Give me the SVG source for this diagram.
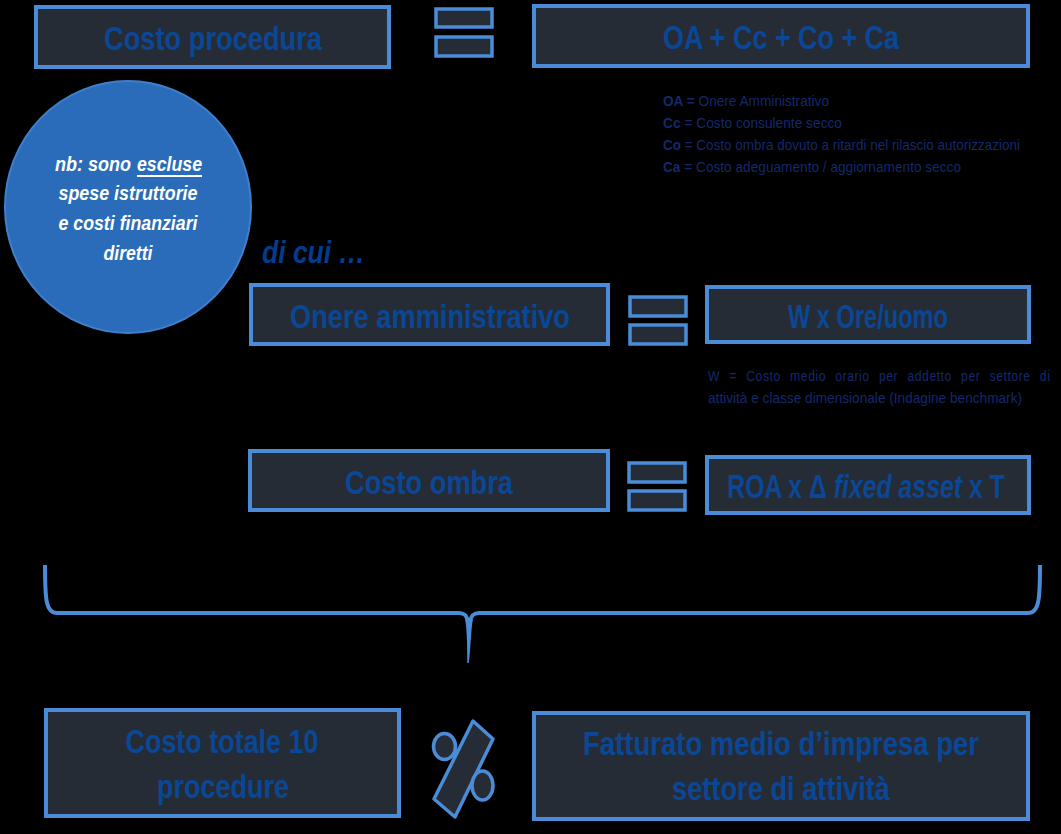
<svg xmlns="http://www.w3.org/2000/svg" width="1061" height="834" viewBox="0 0 1061 834">
<style>
.box{fill:#262C35;stroke:#4A8CD8;stroke-width:4}
.eq{fill:#262C35;stroke:#4A8CD8;stroke-width:3.5}
.t{font-family:"Liberation Sans Narrow","Liberation Sans",Arial,sans-serif;font-weight:bold;fill:#0A4796;text-anchor:middle;font-size:34px}
.lg{font-family:"Liberation Sans Narrow","Liberation Sans",Arial,sans-serif;fill:#12296C;font-size:15px}
.lg tspan.b{font-weight:bold}
.nb{font-family:"Liberation Sans Narrow","Liberation Sans",Arial,sans-serif;font-weight:bold;font-style:italic;fill:#FFFFFF;font-size:21px}
.brace{fill:none;stroke:#4A8CD8;stroke-width:4}
</style>
<rect width="1061" height="834" fill="#000000"/>

<g id="costo-procedura">
<rect class="box" x="36" y="7" width="353" height="60"/>
<text class="t" x="213" y="50" textLength="218" lengthAdjust="spacingAndGlyphs">Costo procedura</text>
</g>
<g id="eq1">
<rect class="eq" x="436" y="9" width="56" height="18"/>
<rect class="eq" x="436" y="37" width="56" height="19"/>
</g>
<g id="formula">
<rect class="box" x="534" y="6" width="494" height="60"/>
<text class="t" x="781" y="49" textLength="236" lengthAdjust="spacingAndGlyphs">OA + Cc + Co + Ca</text>
</g>
<g id="legend">
<text class="lg" x="663" y="106" textLength="166" lengthAdjust="spacingAndGlyphs"><tspan class="b">OA =</tspan> Onere Amministrativo</text>
<text class="lg" x="663" y="128" textLength="179" lengthAdjust="spacingAndGlyphs"><tspan class="b">Cc</tspan> = Costo consulente secco</text>
<text class="lg" x="663" y="150" textLength="357" lengthAdjust="spacingAndGlyphs"><tspan class="b">Co</tspan> = Costo ombra dovuto a ritardi nel rilascio autorizzazioni</text>
<text class="lg" x="663" y="172" textLength="298" lengthAdjust="spacingAndGlyphs"><tspan class="b">Ca</tspan> = Costo adeguamento / aggiornamento secco</text>
</g>
<g id="nota">
<ellipse cx="128" cy="207" rx="123" ry="126" fill="#2A6CB9" stroke="#3F80CE" stroke-width="2"/>
<text class="nb" x="55" y="171" textLength="76" lengthAdjust="spacingAndGlyphs">nb: sono</text>
<text class="nb" x="137" y="171" textLength="65" lengthAdjust="spacingAndGlyphs">escluse</text>
<line x1="137" y1="176" x2="202" y2="176" stroke="#FFFFFF" stroke-width="2"/>
<text class="nb" x="128" y="200" text-anchor="middle" textLength="139" lengthAdjust="spacingAndGlyphs">spese istruttorie</text>
<text class="nb" x="128" y="230" text-anchor="middle" textLength="139" lengthAdjust="spacingAndGlyphs">e costi finanziari</text>
<text class="nb" x="128" y="260" text-anchor="middle" textLength="49" lengthAdjust="spacingAndGlyphs">diretti</text>
</g>
<g id="di-cui">
<text x="262" y="263" font-family="'Liberation Sans Narrow','Liberation Sans',Arial,sans-serif" font-weight="bold" font-style="italic" font-size="31" fill="#003D8C" textLength="103" lengthAdjust="spacingAndGlyphs">di cui …</text>
</g>
<g id="onere">
<rect class="box" x="251" y="285" width="357" height="59"/>
<text class="t" x="430" y="328" textLength="280" lengthAdjust="spacingAndGlyphs">Onere amministrativo</text>
</g>
<g id="eq2">
<rect class="eq" x="630" y="297" width="56" height="19"/>
<rect class="eq" x="630" y="325" width="56" height="19"/>
</g>
<g id="w-ore">
<rect class="box" x="707" y="287" width="322" height="55"/>
<text class="t" x="868" y="328" textLength="160" lengthAdjust="spacingAndGlyphs">W x Ore/uomo</text>
</g>
<g id="w-legend">
<text class="lg" transform="translate(708,381) scale(0.82,1)" x="0" y="0" word-spacing="6.5" textLength="417" lengthAdjust="spacing">W = Costo medio orario per addetto per settore di</text>
<text class="lg" x="708" y="403" textLength="314" lengthAdjust="spacingAndGlyphs">attività e classe dimensionale (Indagine benchmark)</text>
</g>
<g id="costo-ombra">
<rect class="box" x="250" y="451" width="358" height="59"/>
<text class="t" x="429" y="494" textLength="168" lengthAdjust="spacingAndGlyphs">Costo ombra</text>
</g>
<g id="eq3">
<rect class="eq" x="629" y="463" width="56" height="19"/>
<rect class="eq" x="629" y="491" width="56" height="19"/>
</g>
<g id="roa">
<rect class="box" x="707" y="457" width="322" height="56"/>
<text class="t" font-size="33" transform="translate(866,498) scale(0.73,1)" x="0" y="0">ROA x Δ <tspan font-style="italic">fixed asset</tspan> x T</text>
</g>
<g id="connectors">
<path class="brace" d="M45,565 C45,600 46,613 57,613 L459,613 C465,613 467,616 468,622 M470,622 C471,616 473,613 479,613 L1028,613 C1039,613 1040,600 1040,565"/>
<path d="M466,620 C468,630 468,650 468,663 C470,650 470,630 472,620 Z" fill="#4A8CD8" stroke="#4A8CD8" stroke-width="1.5"/>
</g>
<g id="costo-totale">
<rect class="box" x="46" y="710" width="353" height="106"/>
<text class="t" x="222" y="753" textLength="193" lengthAdjust="spacingAndGlyphs">Costo totale 10</text>
<text class="t" x="223" y="798" textLength="132" lengthAdjust="spacingAndGlyphs">procedure</text>
</g>
<g id="percent">
<polygon points="473,721 493,739 455,817 434,799" fill="#262C35" stroke="#4A8CD8" stroke-width="3.5" stroke-linejoin="round"/>
<ellipse cx="444.5" cy="746.5" rx="11" ry="13" fill="#262C35" stroke="#4A8CD8" stroke-width="3.5"/>
<ellipse cx="482.5" cy="785.5" rx="10.5" ry="14.5" fill="#262C35" stroke="#4A8CD8" stroke-width="3.5"/>
</g>
<g id="fatturato">
<rect class="box" x="534" y="713" width="494" height="106"/>
<text class="t" font-size="34" transform="translate(781,755) scale(0.81,1)" x="0" y="0">Fatturato medio d’impresa per</text>
<text class="t" x="781" y="800" textLength="218" lengthAdjust="spacingAndGlyphs">settore di attività</text>
</g>
</svg>
